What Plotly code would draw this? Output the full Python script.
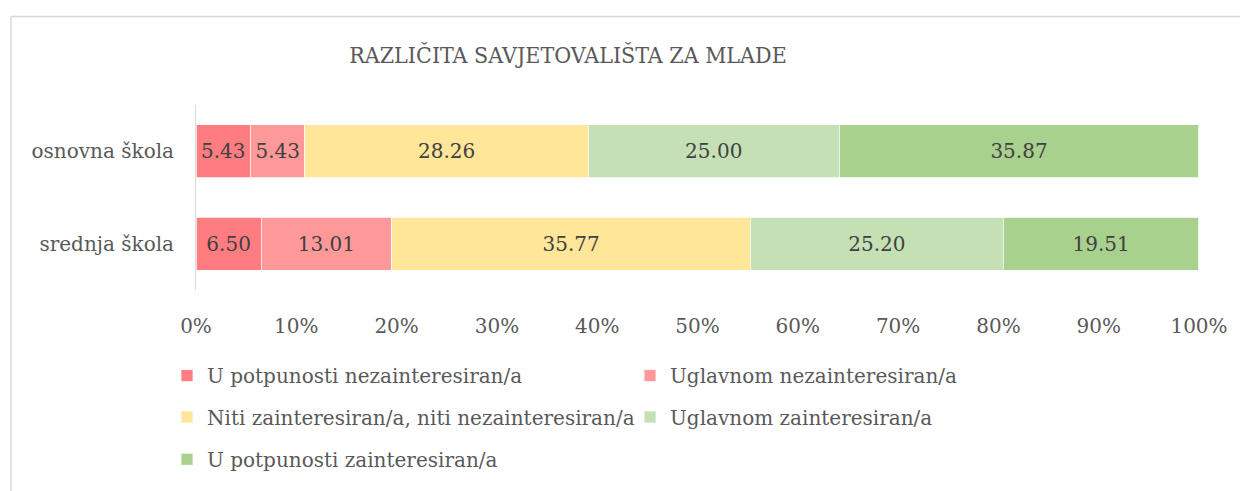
import plotly.graph_objects as go

categories = ["osnovna škola", "srednja škola"]
series_names = [
    "U potpunosti nezainteresiran/a",
    "Uglavnom nezainteresiran/a",
    "Niti zainteresiran/a, niti nezainteresiran/a",
    "Uglavnom zainteresiran/a",
    "U potpunosti zainteresiran/a",
]
s1 = [5.43, 6.50]
s2 = [5.43, 13.01]
s3 = [28.26, 35.77]
s4 = [25.00, 25.20]
s5 = [35.87, 19.51]
values = [s1, s2, s3, s4, s5]
colors = ["#FF7C80", "#FF9999", "#FFE699", "#C5E0B4", "#A9D18E"]
tick_vals = [0, 10, 20, 30, 40, 50, 60, 70, 80, 90, 100]
tick_text = ["0%", "10%", "20%", "30%", "40%", "50%", "60%", "70%", "80%", "90%", "100%"]
title_text = "RAZLIČITA SAVJETOVALIŠTA ZA MLADE"

# page body has an 8px margin; work in screen pixels and shift
OFF = 8
W, H = 1248 - OFF, 491 - OFF
L, R, T, B = 196 - OFF, 49, 105 - OFF, 198
PW, PH = W - L - R, H - T - B

def px(xs):
    return (xs - OFF - L) / PW

def py(ys):
    return (H - B - (ys - OFF)) / PH

FONT = "DejaVu Serif"
legend_ids = ["legend", "legend", "legend2", "legend2", "legend3"]

fig = go.Figure()
for name, vals, col, lg in zip(series_names, values, colors, legend_ids):
    fig.add_trace(go.Bar(
        name=name, y=categories, x=vals, orientation="h",
        marker=dict(color=col, line=dict(color="white", width=0.75)),
        width=0.575,
        text=vals, texttemplate="%{x:.2f}", textposition="inside",
        insidetextanchor="middle", textangle=0, constraintext="none",
        textfont=dict(family=FONT, size=20, color="#404040"),
        legend=lg,
    ))

leg_common = dict(orientation="h", xanchor="left", yanchor="middle",
                  traceorder="normal",
                  font=dict(family=FONT, size=20, color="#595959"),
                  entrywidth=418, entrywidthmode="pixels",
                  bgcolor="rgba(0,0,0,0)", itemclick=False)

fig.update_layout(
    width=W, height=H,
    margin=dict(l=L, r=R, t=T, b=B),
    barmode="stack",
    paper_bgcolor="white", plot_bgcolor="white",
    title=dict(text=title_text, x=px(568), xref="paper", xanchor="center",
               y=1 - (55 - OFF) / H, yref="container", yanchor="middle",
               font=dict(family="DejaVu Serif Condensed", size=23, color="#595959")),
    xaxis=dict(range=[0, 100], tickvals=tick_vals, ticktext=tick_text,
               showgrid=False, zeroline=False, showline=False,
               ticklabelstandoff=22,
               tickfont=dict(family=FONT, size=20, color="#595959")),
    yaxis=dict(autorange="reversed", showgrid=False, zeroline=False,
               showline=True, linecolor="#D9D9D9", linewidth=1,
               ticklabelstandoff=17,
               tickfont=dict(family=FONT, size=20, color="#595959")),
    legend=dict(x=px(167), y=py(380), **leg_common),
    legend2=dict(x=px(167), y=py(422), **leg_common),
    legend3=dict(x=px(167), y=py(465), **leg_common),
    shapes=[
        dict(type="line", xref="paper", yref="paper", x0=px(11), x1=px(1260),
             y0=py(15), y1=py(15), line=dict(color="#D9D9D9", width=1.5)),
        dict(type="line", xref="paper", yref="paper", x0=px(11), x1=px(11),
             y0=py(15), y1=py(500), line=dict(color="#D9D9D9", width=1.5)),
    ],
)

fig.write_html("out.html")
